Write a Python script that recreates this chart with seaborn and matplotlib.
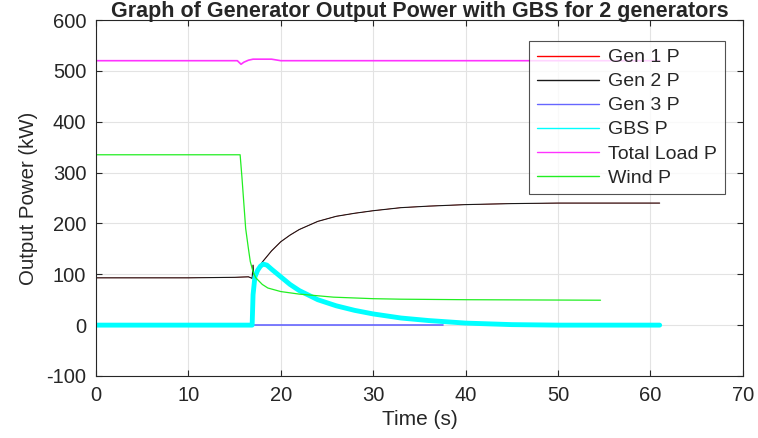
import numpy as np
import pandas as pd
import matplotlib
matplotlib.use("Agg")
import matplotlib.pyplot as plt
import seaborn as sns

# values
t_gen = [0, 5, 10, 15, 16.5, 16.9, 17.0, 17.1, 17.3, 17.6, 18, 19, 20, 21, 22, 24, 26, 28, 30, 33, 36, 40, 45, 50, 55, 61]
gen2_p = [93, 93, 93, 94, 95, 92, 118, 86, 100, 110, 124, 146, 164, 177, 188, 204, 214, 220, 225, 231, 234, 237, 239, 240, 240, 240]
gen1_p = list(gen2_p)  # hidden under Gen 2

t_gen3 = [0, 37.5]
gen3_p = [0, 0]

t_gbs = [0, 16.9, 17.0, 17.2, 17.5, 17.8, 18.1, 18.5, 19, 20, 21, 22, 24, 26, 28, 30, 33, 36, 40, 45, 50, 61]
gbs_p = [0, 0, 60, 95, 108, 116, 120, 118, 110, 95, 80, 68, 50, 38, 29, 22, 14, 9, 4, 1, 0, 0]

t_load = [0, 15.3, 15.7, 16.0, 16.5, 17, 19, 20, 61]
load_p = [520, 520, 513, 517, 521, 523, 523, 520, 520]

t_wind = [0, 15.6, 15.8, 16.0, 16.2, 16.5, 16.7, 17.0, 17.3, 18, 18.6, 20, 22, 25.7, 30, 33, 40, 54.6]
wind_p = [335, 335, 290, 240, 190, 150, 125, 105, 93, 80, 73, 66, 61, 55, 52, 51, 50, 49]

sns.set_style("white")
plt.rcParams['font.family'] = ['Liberation Sans', 'DejaVu Sans']
plt.rcParams['axes.unicode_minus'] = False

fig = plt.figure(figsize=(7.58, 4.38), dpi=100)
ax = fig.add_axes([0.1266, 0.1416, 0.8534, 0.8127])

sns.lineplot(x=t_gen, y=gen1_p, color='#ff0000', lw=0.4, label='Gen 1 P', ax=ax)
sns.lineplot(x=t_gen, y=gen2_p, color='#1a1a1a', lw=0.8, label='Gen 2 P', ax=ax)
sns.lineplot(x=t_gen3, y=gen3_p, color='#6666ff', lw=1.2, label='Gen 3 P', ax=ax)
sns.lineplot(x=t_gbs, y=gbs_p, color='#00ffff', lw=3.5, label='GBS P', ax=ax)
sns.lineplot(x=t_load, y=load_p, color='#ff33ff', lw=1.2, label='Total Load P', ax=ax)
sns.lineplot(x=t_wind, y=wind_p, color='#22ee22', lw=0.9, label='Wind P', ax=ax)

ax.set_xlim(0, 70)
ax.set_ylim(-100, 600)
ax.set_xticks(range(0, 71, 10))
ax.set_yticks(range(-100, 601, 100))
ax.grid(True, color='#e3e3e3', lw=0.8)
ax.set_axisbelow(True)
for s in ax.spines.values():
    s.set_color('#262626')
    s.set_linewidth(0.8)
ax.tick_params(direction='in', length=4, width=0.8, labelsize=14.5, colors='#262626',
               top=True, right=True, left=True, bottom=True, pad=7)
for lab in ax.get_xticklabels() + ax.get_yticklabels():
    lab.set_color('#262626')

ax.set_xlabel('Time (s)', fontsize=15, color='#262626', labelpad=4)
ax.set_ylabel('Output Power (kW)', fontsize=14.7, color='#262626', labelpad=6)
# title sits right at the top edge, as in the reference
ax.set_title('Graph of Generator Output Power with GBS for 2 generators',
             fontsize=15.5, fontweight='bold', pad=2.5)

leg = ax.legend(loc='upper right', bbox_to_anchor=(0.972, 0.941), fontsize=14,
                handlelength=3.2, frameon=True, fancybox=False, borderpad=0.4,
                labelspacing=0.33, handletextpad=0.45, borderaxespad=0)
leg.get_frame().set_edgecolor('#262626')
leg.get_frame().set_linewidth(0.8)
for h in leg.get_lines():
    h.set_linewidth(1.0)

fig.savefig('out.png', dpi=100)
